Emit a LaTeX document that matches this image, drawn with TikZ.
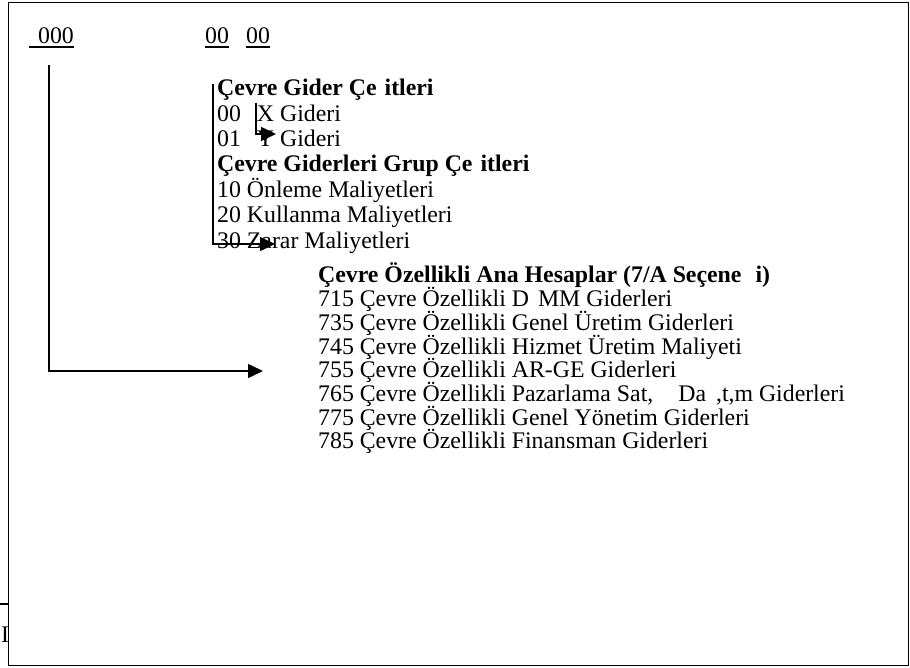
\documentclass[tikz,border=0pt]{standalone}
\usepackage{fontspec}
\setmainfont{Liberation Serif}
\usetikzlibrary{arrows.meta}
\begin{document}
\begin{tikzpicture}[x=1pt,y=-1pt,
  txt/.style={anchor=base west, inner sep=0pt, font=\fontsize{23.8}{27}\selectfont},
  bld/.style={anchor=base west, inner sep=0pt, font=\fontsize{23.8}{27}\selectfont\bfseries},
  conn/.style={line width=1.5pt, -{Triangle[length=15pt,width=14pt]}},
  uline/.style={line width=1.4pt},
  frameline/.style={line width=1.3pt}]
\useasboundingbox (0,0) rectangle (910,668);
% frame
\draw[frameline] (8.5,2.5) -- (908.5,2.5) -- (908.5,665.5) -- (8.5,665.5) -- cycle;
\draw[frameline] (0,604) -- (8.5,604);
\node[txt] (cut) at (1,642) {I};
% header codes
\node[txt] (h1) at (29,44) {\hspace{9pt}000};
\node[txt] (h2) at (205,44) {00};
\node[txt] (h3) at (246,44) {00};
\draw[uline] ([yshift=-3pt]h1.base west) -- ([yshift=-3pt]h1.base east);
\draw[uline] ([yshift=-3pt]h2.base west) -- ([yshift=-3pt]h2.base east);
\draw[uline] ([yshift=-3pt]h3.base west) -- ([yshift=-3pt]h3.base east);
% block 1
\node[bld] (g0) at (217,96) {Çevre Gider Çe\hspace{8pt}itleri};
\node[txt] (g1) at (217,121.3) {00\hspace{16pt}X Gideri};
\node[txt] (g2) at (217,146.6) {01\hspace{16pt}Y Gideri};
\node[bld] (g3) at (217,171.9) {Çevre Giderleri Grup Çe\hspace{8pt}itleri};
\node[txt] (g4) at (217,197.2) {10 Önleme Maliyetleri};
\node[txt] (g5) at (217,222.5) {20 Kullanma Maliyetleri};
\node[txt] (g6) at (217,248.5) {30 Zarar Maliyetleri};
% block 2
\node[bld] (k0) at (318,283) {Çevre Özellikli Ana Hesaplar (7/A Seçene\hspace{14pt}i)};
\node[txt] (k1) at (318,306.7) {715 Çevre Özellikli D\hspace{9pt}MM Giderleri};
\node[txt] (k2) at (318,330.4) {735 Çevre Özellikli Genel Üretim Giderleri};
\node[txt] (k3) at (318,354.1) {745 Çevre Özellikli Hizmet Üretim Maliyeti};
\node[txt] (k4) at (318,377.8) {755 Çevre Özellikli AR-GE Giderleri};
\node[txt] (k5) at (318,401.5) {765 Çevre Özellikli Pazarlama Sat,\hspace{25pt}Da\hspace{10pt},t,m Giderleri};
\node[txt] (k6) at (318,425.2) {775 Çevre Özellikli Genel Yönetim Giderleri};
\node[txt] (k7) at (318,448.9) {785 Çevre Özellikli Finansman Giderleri};
% connectors
\coordinate (s1) at (49,65);
\coordinate (e1) at (263,371);
\draw[conn] (s1) |- (e1);
\coordinate (s2) at (213,84);
\coordinate (e2) at (275,244);
\draw[conn] (s2) |- (e2);
\coordinate (s3) at (256,103);
\coordinate (e3) at (276,134);
\draw[conn] (s3) |- (e3);
\end{tikzpicture}
\end{document}
